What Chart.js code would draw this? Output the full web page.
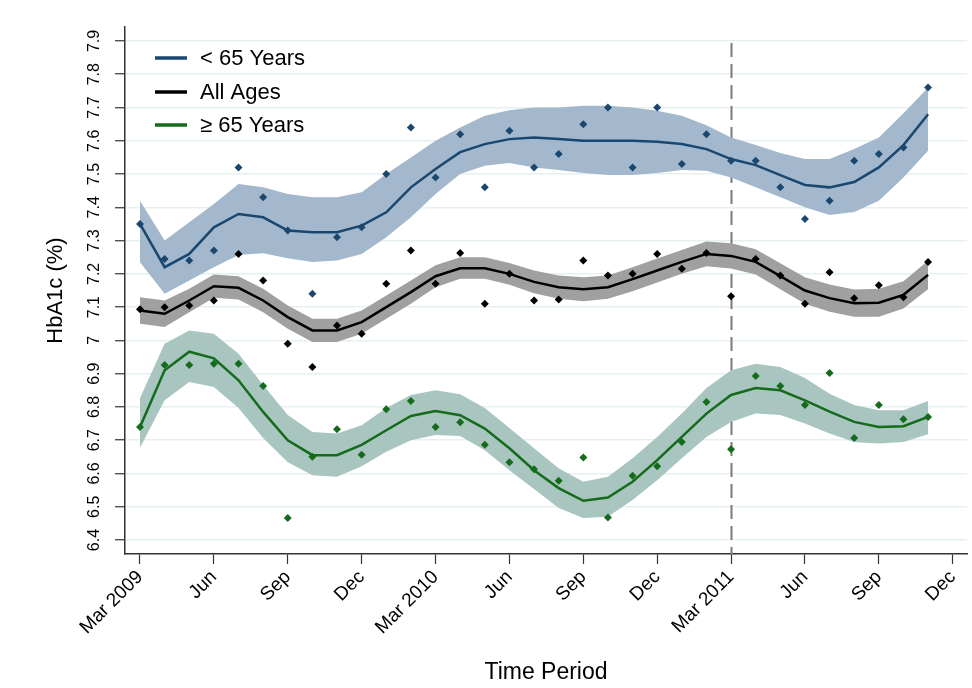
<!DOCTYPE html>
<html>
<head>
<meta charset="utf-8">
<script src="https://cdn.jsdelivr.net/npm/chart.js@4.4.1/dist/chart.umd.min.js"></script>
<style>
  html, body { margin: 0; padding: 0; background: #ffffff; }
  #wrap { width: 972px; height: 688px; position: relative; }
</style>
</head>
<body>
<div id="wrap"><canvas id="c" width="972" height="688"></canvas></div>
<script>
// ---- Data ----
const months = ['2009-03','2009-04','2009-05','2009-06','2009-07','2009-08','2009-09','2009-10','2009-11','2009-12',
  '2010-01','2010-02','2010-03','2010-04','2010-05','2010-06','2010-07','2010-08','2010-09','2010-10','2010-11','2010-12',
  '2011-01','2011-02','2011-03','2011-04','2011-05','2011-06','2011-07','2011-08','2011-09','2011-10','2011-11'];

const tickMonths = [0, 3, 6, 9, 12, 15, 18, 21, 24, 27, 30, 33];
const tickLabels = ['Mar 2009','Jun','Sep','Dec','Mar 2010','Jun','Sep','Dec','Mar 2011','Jun','Sep','Dec'];

const yTickValues = [6.4, 6.5, 6.6, 6.7, 6.8, 6.9, 7.0, 7.1, 7.2, 7.3, 7.4, 7.5, 7.6, 7.7, 7.8, 7.9];
const yTickLabels = ['6.4','6.5','6.6','6.7','6.8','6.9','7','7.1','7.2','7.3','7.4','7.5','7.6','7.7','7.8','7.9'];

const markerMonth = 24; // Mar 2011 reference line

// < 65 Years
const under65Obs = [7.35, 7.245, 7.24, 7.27, 7.52, 7.43, 7.33, 7.14, 7.31, 7.34, 7.50, 7.64, 7.49, 7.62, 7.46, 7.63, 7.52,
  7.56, 7.65, 7.70, 7.52, 7.70, 7.53, 7.62, 7.54, 7.54, 7.46, 7.365, 7.42, 7.54, 7.56, 7.58, 7.76];
const under65Fit = [7.35, 7.22, 7.26, 7.34, 7.38, 7.37, 7.33, 7.325, 7.325, 7.345, 7.385, 7.46, 7.515, 7.566, 7.59, 7.605, 7.61,
  7.605, 7.60, 7.60, 7.60, 7.597, 7.59, 7.575, 7.545, 7.527, 7.497, 7.467, 7.46, 7.476, 7.52, 7.587, 7.68];
const under65Upper = [7.42, 7.30, 7.355, 7.41, 7.47, 7.46, 7.44, 7.43, 7.43, 7.445, 7.50, 7.55, 7.60, 7.64, 7.675, 7.692, 7.70,
  7.70, 7.705, 7.705, 7.70, 7.69, 7.675, 7.647, 7.61, 7.587, 7.563, 7.545, 7.545, 7.575, 7.61, 7.683, 7.76];
const under65Lower = [7.235, 7.14, 7.18, 7.22, 7.257, 7.262, 7.247, 7.236, 7.24, 7.26, 7.31, 7.37, 7.44, 7.50, 7.525, 7.533, 7.52,
  7.512, 7.503, 7.497, 7.497, 7.503, 7.512, 7.51, 7.49, 7.46, 7.43, 7.40, 7.377, 7.386, 7.42, 7.49, 7.57];

// All Ages
const allObs = [7.094, 7.10, 7.105, 7.12, 7.26, 7.18, 6.99, 6.92, 7.045, 7.02, 7.17, 7.27, 7.17, 7.263, 7.11, 7.20, 7.12,
  7.123, 7.24, 7.195, 7.20, 7.26, 7.215, 7.263, 7.133, 7.245, 7.195, 7.11, 7.205, 7.127, 7.166, 7.13, 7.236];
const allFit = [7.09, 7.08, 7.12, 7.163, 7.158, 7.12, 7.07, 7.03, 7.03, 7.055, 7.10, 7.145, 7.193, 7.217, 7.217, 7.20, 7.176,
  7.16, 7.154, 7.16, 7.184, 7.21, 7.236, 7.26, 7.254, 7.236, 7.193, 7.15, 7.127, 7.112, 7.113, 7.137, 7.197];
const allUpper = [7.13, 7.12, 7.155, 7.198, 7.193, 7.155, 7.105, 7.065, 7.065, 7.09, 7.135, 7.18, 7.226, 7.25, 7.25, 7.233, 7.21,
  7.195, 7.19, 7.195, 7.22, 7.246, 7.272, 7.297, 7.292, 7.274, 7.232, 7.19, 7.168, 7.153, 7.155, 7.178, 7.24];
const allLower = [7.05, 7.04, 7.085, 7.128, 7.123, 7.085, 7.035, 6.995, 6.995, 7.02, 7.065, 7.11, 7.16, 7.185, 7.185, 7.167, 7.142,
  7.125, 7.118, 7.125, 7.148, 7.174, 7.20, 7.223, 7.216, 7.198, 7.154, 7.11, 7.086, 7.071, 7.071, 7.096, 7.154];

// >= 65 Years
const over65Obs = [6.74, 6.926, 6.926, 6.93, 6.93, 6.863, 6.466, 6.65, 6.733, 6.656, 6.793, 6.818, 6.74, 6.754, 6.686, 6.634, 6.613,
  6.578, 6.648, 6.468, 6.593, 6.622, 6.695, 6.815, 6.673, 6.893, 6.863, 6.806, 6.902, 6.707, 6.806, 6.763, 6.77];
const over65Fit = [6.74, 6.91, 6.966, 6.946, 6.88, 6.785, 6.70, 6.655, 6.655, 6.686, 6.73, 6.773, 6.788, 6.775, 6.735, 6.676, 6.61,
  6.556, 6.518, 6.528, 6.575, 6.64, 6.71, 6.78, 6.836, 6.857, 6.85, 6.82, 6.786, 6.755, 6.74, 6.742, 6.77];
const over65Upper = [6.827, 6.99, 7.03, 7.02, 6.96, 6.866, 6.776, 6.725, 6.72, 6.745, 6.797, 6.836, 6.85, 6.838, 6.797, 6.737, 6.676,
  6.616, 6.575, 6.59, 6.646, 6.71, 6.78, 6.857, 6.91, 6.93, 6.92, 6.887, 6.84, 6.806, 6.79, 6.79, 6.818];
const over65Lower = [6.677, 6.82, 6.875, 6.86, 6.797, 6.707, 6.634, 6.595, 6.59, 6.622, 6.665, 6.70, 6.716, 6.713, 6.67, 6.61, 6.553,
  6.496, 6.466, 6.47, 6.52, 6.58, 6.646, 6.71, 6.755, 6.78, 6.776, 6.75, 6.72, 6.695, 6.69, 6.695, 6.718];

const seriesNames = ['< 65 Years', 'All Ages', '\u2265 65 Years'];

// ---- Styling ----
const lineColors = ['#1a476f', '#000000', '#156b1c'];
const bandColors = ['rgb(163,184,204)', 'rgb(160,160,160)', 'rgb(168,198,191)'];

const toXY = arr => arr.map((v, i) => ({ x: i, y: v }));

function bandPair(upper, lower, color) {
  return [
    { data: toXY(upper), borderWidth: 0, pointRadius: 0, backgroundColor: color, fill: '+1', tension: 0, order: 5 },
    { data: toXY(lower), borderWidth: 0, pointRadius: 0, backgroundColor: color, fill: false, tension: 0, order: 5 }
  ];
}
function fitLine(fit, color) {
  return { data: toXY(fit), borderColor: color, borderWidth: 2.5, pointRadius: 0, fill: false, tension: 0, order: 3 };
}
function obsPoints(obs, color) {
  return { data: toXY(obs), showLine: false, pointStyle: 'rectRot', pointRadius: 4, pointBorderWidth: 0,
    backgroundColor: color, borderColor: color, order: 1 };
}

const datasets = [
  ...bandPair(under65Upper, under65Lower, bandColors[0]),
  ...bandPair(allUpper, allLower, bandColors[1]),
  ...bandPair(over65Upper, over65Lower, bandColors[2]),
  fitLine(under65Fit, lineColors[0]),
  fitLine(allFit, lineColors[1]),
  fitLine(over65Fit, lineColors[2]),
  obsPoints(under65Obs, lineColors[0]),
  obsPoints(allObs, lineColors[1]),
  obsPoints(over65Obs, lineColors[2])
];

const refLinePlugin = {
  id: 'refLine',
  beforeDatasetsDraw(chart) {
    const { ctx, chartArea, scales } = chart;
    const x = Math.round(scales.x.getPixelForValue(markerMonth)) + 0.5;
    ctx.save();
    ctx.strokeStyle = '#7a7a7a';
    ctx.lineWidth = 2;
    ctx.setLineDash([14, 7]);
    ctx.beginPath();
    ctx.moveTo(x, chartArea.top + 16);
    ctx.lineTo(x, chartArea.bottom);
    ctx.stroke();
    ctx.restore();
  }
};

const legendPlugin = {
  id: 'insideLegend',
  afterDatasetsDraw(chart) {
    const { ctx } = chart;
    const rowsY = [58, 92, 125];
    ctx.save();
    ctx.font = '22px "Liberation Sans", Arial, sans-serif';
    ctx.textBaseline = 'middle';
    ctx.textAlign = 'left';
    seriesNames.forEach((name, i) => {
      ctx.strokeStyle = lineColors[i];
      ctx.lineWidth = 3.5;
      ctx.beginPath();
      ctx.moveTo(155, rowsY[i]);
      ctx.lineTo(187, rowsY[i]);
      ctx.stroke();
      ctx.fillStyle = '#000';
      ctx.fillText(name, 200, rowsY[i] + 1);
    });
    ctx.restore();
  }
};

Chart.defaults.font.family = '"Liberation Sans", Arial, sans-serif';
Chart.defaults.color = '#000';

new Chart(document.getElementById('c'), {
  type: 'line',
  data: { datasets },
  options: {
    responsive: false,
    animation: false,
    devicePixelRatio: 1,
    layout: { padding: { top: 27, right: 5, left: 0, bottom: 0 } },
    plugins: { legend: { display: false }, tooltip: { enabled: false } },
    scales: {
      x: {
        type: 'linear',
        min: -0.609,
        max: 33.58,
        afterBuildTicks: s => { s.ticks = tickMonths.map(v => ({ value: v })); },
        afterFit: s => { s.height = 134; },
        ticks: {
          autoSkip: false, minRotation: 45, maxRotation: 45, padding: 2,
          font: { size: 19 }, color: '#000',
          callback: (v, i) => tickLabels[i]
        },
        grid: { drawOnChartArea: false, tickLength: 10, tickColor: '#333', tickWidth: 1.2 },
        border: { display: true, color: '#333', width: 1.5 },
        title: { display: true, text: 'Time Period', font: { size: 23 }, color: '#000', padding: { top: 0, bottom: 2 } }
      },
      y: {
        type: 'linear',
        min: 6.358,
        max: 7.942,
        afterBuildTicks: s => { s.ticks = yTickValues.map(v => ({ value: v })); },
        afterFit: s => { s.width = 125; },
        ticks: {
          minRotation: 90, maxRotation: 90, crossAlign: 'center', padding: 9,
          font: { size: 16 }, color: '#000',
          callback: (v, i) => yTickLabels[i]
        },
        grid: { color: '#e6f0f1', lineWidth: 1.5, tickColor: '#333', tickLength: 10, tickWidth: 1.2 },
        border: { display: true, color: '#333', width: 1.5 },
        title: { display: true, text: 'HbA1c (%)', font: { size: 22 }, color: '#000', padding: { top: 43, bottom: 0 } }
      }
    }
  },
  plugins: [refLinePlugin, legendPlugin]
});
</script>
</body>
</html>
